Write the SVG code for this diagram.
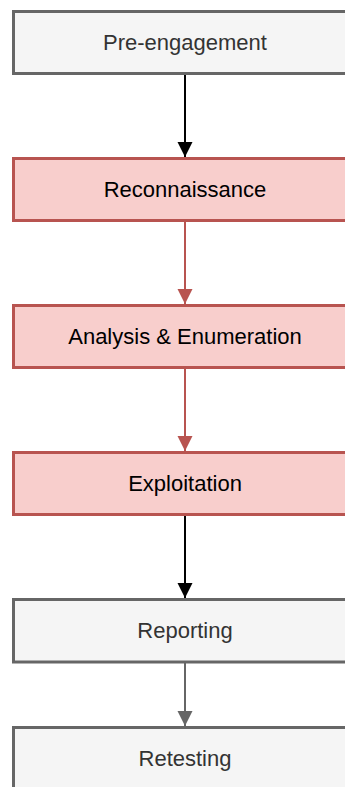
<svg xmlns="http://www.w3.org/2000/svg" width="345" height="787" viewBox="0 0 345 787">
<defs>
<style>
.gray rect{fill:#f5f5f5;stroke:#666666;stroke-width:3}
.red rect{fill:#f8cecc;stroke:#b85450;stroke-width:3}
text{font-family:"Liberation Sans",Arial,sans-serif;font-size:22px;text-anchor:middle}
.gray text{fill:#333333}
.red text{fill:#000000}
.edge{stroke-width:2;fill:none}
</style>
<marker id="ah-black" markerUnits="userSpaceOnUse" markerWidth="16" markerHeight="16" viewBox="0 0 16 16" refX="15" refY="8" orient="auto"><path d="M0,0.5 L15,8 L0,15.5 Z" fill="#000000"/></marker>
<marker id="ah-red" markerUnits="userSpaceOnUse" markerWidth="16" markerHeight="16" viewBox="0 0 16 16" refX="15" refY="8" orient="auto"><path d="M0,0.5 L15,8 L0,15.5 Z" fill="#b85450"/></marker>
<marker id="ah-gray" markerUnits="userSpaceOnUse" markerWidth="16" markerHeight="16" viewBox="0 0 16 16" refX="15" refY="8" orient="auto"><path d="M0,0.5 L15,8 L0,15.5 Z" fill="#666666"/></marker>
</defs>
<g id="edges">
<path class="edge" d="M185,73.5 L185,157" stroke="#000000" marker-end="url(#ah-black)"/>
<path class="edge" d="M185,220.5 L185,304" stroke="#b85450" marker-end="url(#ah-red)"/>
<path class="edge" d="M185,367.5 L185,451" stroke="#b85450" marker-end="url(#ah-red)"/>
<path class="edge" d="M185,514.5 L185,598" stroke="#000000" marker-end="url(#ah-black)"/>
<path class="edge" d="M185,662 L185,726" stroke="#666666" marker-end="url(#ah-gray)"/>
</g>
<g id="pre-engagement" class="gray"><rect x="13.5" y="11.5" width="343" height="62"/><text x="185" y="50">Pre-engagement</text></g>
<g id="reconnaissance" class="red"><rect x="13.5" y="158.5" width="343" height="62"/><text x="185" y="197">Reconnaissance</text></g>
<g id="analysis" class="red"><rect x="13.5" y="305.5" width="343" height="62"/><text x="185" y="344">Analysis &amp; Enumeration</text></g>
<g id="exploitation" class="red"><rect x="13.5" y="452.5" width="343" height="62"/><text x="185" y="491">Exploitation</text></g>
<g id="reporting" class="gray"><rect x="13.5" y="599.5" width="343" height="62.5"/><text x="185" y="638">Reporting</text></g>
<g id="retesting" class="gray"><rect x="13.5" y="727.5" width="343" height="62"/><text x="185" y="766">Retesting</text></g>
</svg>
